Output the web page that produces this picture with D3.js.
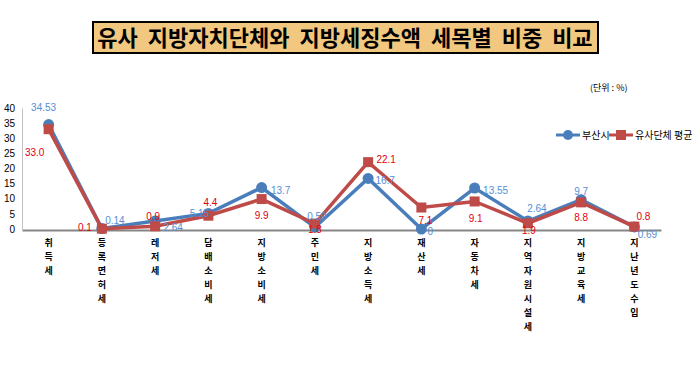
<!DOCTYPE html>
<html>
<head>
<meta charset="utf-8">
<script src="https://cdn.jsdelivr.net/npm/d3@7"></script>
<style>
  body { margin: 0; background: #fff; }
  svg text { font-family: "Noto Sans CJK KR", "Noto Sans", sans-serif; }
</style>
</head>
<body>
<svg id="chart" width="697" height="375"></svg>
<script>
// categories (tax items)
var categories = ["취득세", "등록면허세", "레저세", "담배소비세", "지방소비세", "주민세",
    "지방소득세", "재산세", "자동차세", "지역자원시설세", "지방교육세", "지난년도수입"];

// 부산시
var busan = [34.53, 0.14, 2.64, 5.15, 13.7, 0.59, 16.7, 0, 13.55, 2.64, 9.7, 0.69];
// 유사단체 평균
var average = [33.0, 0.1, 0.9, 4.4, 9.9, 1.8, 22.1, 7.1, 9.1, 1.9, 8.8, 0.8];
var averageText = ["33.0", "0.1", "0.9", "4.4", "9.9", "1.8", "22.1", "7.1", "9.1", "1.9", "8.8", "0.8"];

var yTicks = [0, 5, 10, 15, 20, 25, 30, 35, 40];

// where each value label sits around its point
var busanLabelPos = [[-5,-17],[13,-8],[18,7],[-9,1],[19,3],[2,-10],[17,3],[9,3],[21,3],[9,-12],[0,-8],[13,8]];
var avgLabelPos = [[-14,24],[-17,-1],[-2,-9],[2,-13],[0,17],[0,6],[18,-2],[4,13],[1,18],[1,8],[0,16],[9,-10]];

var svg = d3.select("#chart");

// title box
svg.append("rect")
    .attr("x", 93).attr("y", 22)
    .attr("width", 505).attr("height", 31)
    .attr("fill", "#F2C77F")
    .attr("stroke", "#000")
    .attr("stroke-width", 2);
svg.append("text")
    .attr("x", 345).attr("y", 45.5)
    .attr("text-anchor", "middle")
    .attr("font-size", "22px")
    .attr("font-weight", "bold")
    .attr("word-spacing", "5px")
    .attr("fill", "#000")
    .text("유사 지방자치단체와 지방세징수액 세목별 비중 비교");

svg.append("text")
    .attr("x", 590).attr("y", 91)
    .attr("font-size", "9px")
    .attr("fill", "#000")
    .text("(단위 : %)");

var x = d3.scaleBand().domain(categories).range([22, 661]);
var y = d3.scaleLinear().domain([0, 40]).range([229, 108]);

// y axis
var yAxis = svg.append("g")
    .attr("transform", "translate(22,0)")
    .call(d3.axisLeft(y).tickValues(yTicks).tickSize(0).tickPadding(7));
yAxis.select(".domain").attr("stroke", "#BFBFBF");
yAxis.selectAll("text")
    .attr("font-size", "10px")
    .attr("fill", "#000")
    .style("font-family", "'Liberation Sans', sans-serif");

// x axis
var xAxis = svg.append("g")
    .attr("transform", "translate(0,230)")
    .call(d3.axisBottom(x).tickSize(0).tickFormat(""));
xAxis.select(".domain").attr("stroke", "#868686").attr("stroke-width", 2);

// category labels, one character per line
categories.forEach(function(c) {
    var t = svg.append("text")
        .attr("text-anchor", "middle")
        .attr("font-size", "9px")
        .attr("font-weight", "bold")
        .attr("fill", "#000");
    c.split("").forEach(function(ch, i) {
        t.append("tspan")
            .attr("x", x(c) + x.bandwidth() / 2)
            .attr("y", 246 + i * 14)
            .text(ch);
    });
});

var cx = function(d, i) { return x(categories[i]) + x.bandwidth() / 2; };

var line = d3.line()
    .x(function(d, i) { return cx(d, i); })
    .y(function(d) { return y(d); });

// 부산시
svg.append("path")
    .datum(busan)
    .attr("d", line)
    .attr("fill", "none")
    .attr("stroke", "#4A7EBB")
    .attr("stroke-width", 3.5);
svg.selectAll(".bdot").data(busan).enter().append("circle")
    .attr("class", "bdot")
    .attr("cx", cx)
    .attr("cy", function(d) { return y(d); })
    .attr("r", 5.5)
    .attr("fill", "#4A7EBB");

// 유사단체 평균
svg.append("path")
    .datum(average)
    .attr("d", line)
    .attr("fill", "none")
    .attr("stroke", "#BE4B48")
    .attr("stroke-width", 3.5);
svg.selectAll(".adot").data(average).enter().append("rect")
    .attr("class", "adot")
    .attr("x", function(d, i) { return cx(d, i) - 5; })
    .attr("y", function(d) { return y(d) - 5; })
    .attr("width", 10).attr("height", 10)
    .attr("fill", "#BE4B48");

// value labels
svg.selectAll(".blab").data(busan).enter().append("text")
    .attr("class", "blab")
    .attr("x", function(d, i) { return cx(d, i) + busanLabelPos[i][0]; })
    .attr("y", function(d, i) { return y(d) + busanLabelPos[i][1] + 3; })
    .attr("text-anchor", "middle")
    .attr("font-size", "10px")
    .attr("fill", "#558ED5")
    .style("font-family", "'Liberation Sans Narrow', 'Liberation Sans', sans-serif")
    .text(function(d) { return String(d); });

svg.selectAll(".alab").data(average).enter().append("text")
    .attr("class", "alab")
    .attr("x", function(d, i) { return cx(d, i) + avgLabelPos[i][0]; })
    .attr("y", function(d, i) { return y(d) + avgLabelPos[i][1] + 3; })
    .attr("text-anchor", "middle")
    .attr("font-size", "10px")
    .attr("fill", "#E3000F")
    .style("font-family", "'Liberation Sans Narrow', 'Liberation Sans', sans-serif")
    .text(function(d, i) { return averageText[i]; });

// legend
var legend = [["부산시", "#4A7EBB", "circle"], ["유사단체 평균", "#BE4B48", "rect"]];
var lx = [556, 609];
legend.forEach(function(l, i) {
    var g = svg.append("g").attr("transform", "translate(" + lx[i] + ",135)");
    g.append("line").attr("x1", 0).attr("x2", 24).attr("y1", 0).attr("y2", 0)
        .attr("stroke", l[1]).attr("stroke-width", 3);
    if (l[2] === "circle") {
        g.append("circle").attr("cx", 12).attr("cy", 0).attr("r", 5).attr("fill", l[1]);
    } else {
        g.append("rect").attr("x", 7).attr("y", -5).attr("width", 10).attr("height", 10).attr("fill", l[1]);
    }
    g.append("text").attr("x", 26).attr("y", 4)
        .attr("font-size", "10px")
        .attr("fill", "#000")
        .text(l[0]);
});
</script>
</body>
</html>
